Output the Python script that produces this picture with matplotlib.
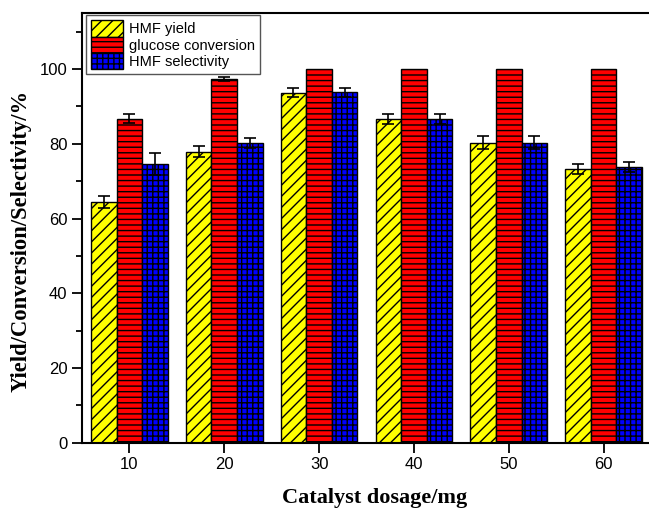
import numpy as np
import matplotlib
matplotlib.use("Agg")
import matplotlib.pyplot as plt
from matplotlib.ticker import MultipleLocator

# data
dosage = [10, 20, 30, 40, 50, 60]
hmf_yield = [64.4, 77.9, 93.7, 86.6, 80.3, 73.3]
yield_err = [1.7, 1.5, 1.2, 1.4, 1.7, 1.4]
glucose_conv = [86.7, 97.3, 100, 100, 100, 100]
conv_err = [1.2, 0.5, 0, 0, 0, 0]
hmf_select = [74.5, 80.2, 93.8, 86.6, 80.3, 73.8]
select_err = [2.9, 1.3, 1.2, 1.3, 1.7, 1.3]

plt.rcParams['hatch.linewidth'] = 1.0
plt.rcParams['font.family'] = ['Liberation Sans', 'DejaVu Sans']

fig = plt.figure(figsize=(6.49, 5.11), dpi=100)
ax = fig.add_axes([82/649, 68.3/511, 569/649, 429.7/511])

x = np.array(dosage, dtype=float)
w = 2.7
err_kw = dict(ecolor='black', elinewidth=1.2, capsize=4.5, capthick=1.2)

ax.bar(x - w, hmf_yield, w, yerr=yield_err, color='#ffff00', edgecolor='black',
       hatch='///', linewidth=1.0, label='HMF yield', error_kw=err_kw, zorder=2)
ax.bar(x, glucose_conv, w, yerr=[c if c > 0 else np.nan for c in conv_err],
       color='#ff0000', edgecolor='black', hatch='---', linewidth=1.0,
       label='glucose conversion', error_kw=err_kw, zorder=2)
ax.bar(x + w, hmf_select, w, yerr=select_err, color='#0000ff', edgecolor='black',
       hatch='+++', linewidth=1.0, label='HMF selectivity', error_kw=err_kw, zorder=2)

ax.set_xlim(5, 65)
ax.set_ylim(0, 115)
ax.set_xticks(dosage)
ax.yaxis.set_major_locator(MultipleLocator(20))
ax.yaxis.set_minor_locator(MultipleLocator(10))
ax.set_yticks([0, 20, 40, 60, 80, 100])

ax.tick_params(axis='both', which='major', direction='out', length=7, width=1.3,
               labelsize=12)
ax.tick_params(axis='y', which='minor', direction='out', length=4, width=1.3)
for s in ax.spines.values():
    s.set_linewidth(1.5)

ax.set_xlabel('Catalyst dosage/mg', fontsize=16, fontweight='bold',
              family='Liberation Serif')
ax.xaxis.set_label_coords(0.515, -0.105)
ax.set_ylabel('Yield/Conversion/Selectivity/%', fontsize=16.3, fontweight='bold',
              family='Liberation Serif', va='center')
ax.yaxis.set_label_coords(-0.107, 0.47)

leg = ax.legend(loc='upper left', fontsize=10.5, handlelength=2.2, handleheight=1.35,
                labelspacing=0.0, borderpad=0.35, handletextpad=0.4,
                borderaxespad=0.0, fancybox=False, framealpha=1,
                edgecolor='#555555', bbox_to_anchor=(0.007, 0.995))
leg.get_frame().set_linewidth(1.0)

fig.savefig('out.png', dpi=100)
